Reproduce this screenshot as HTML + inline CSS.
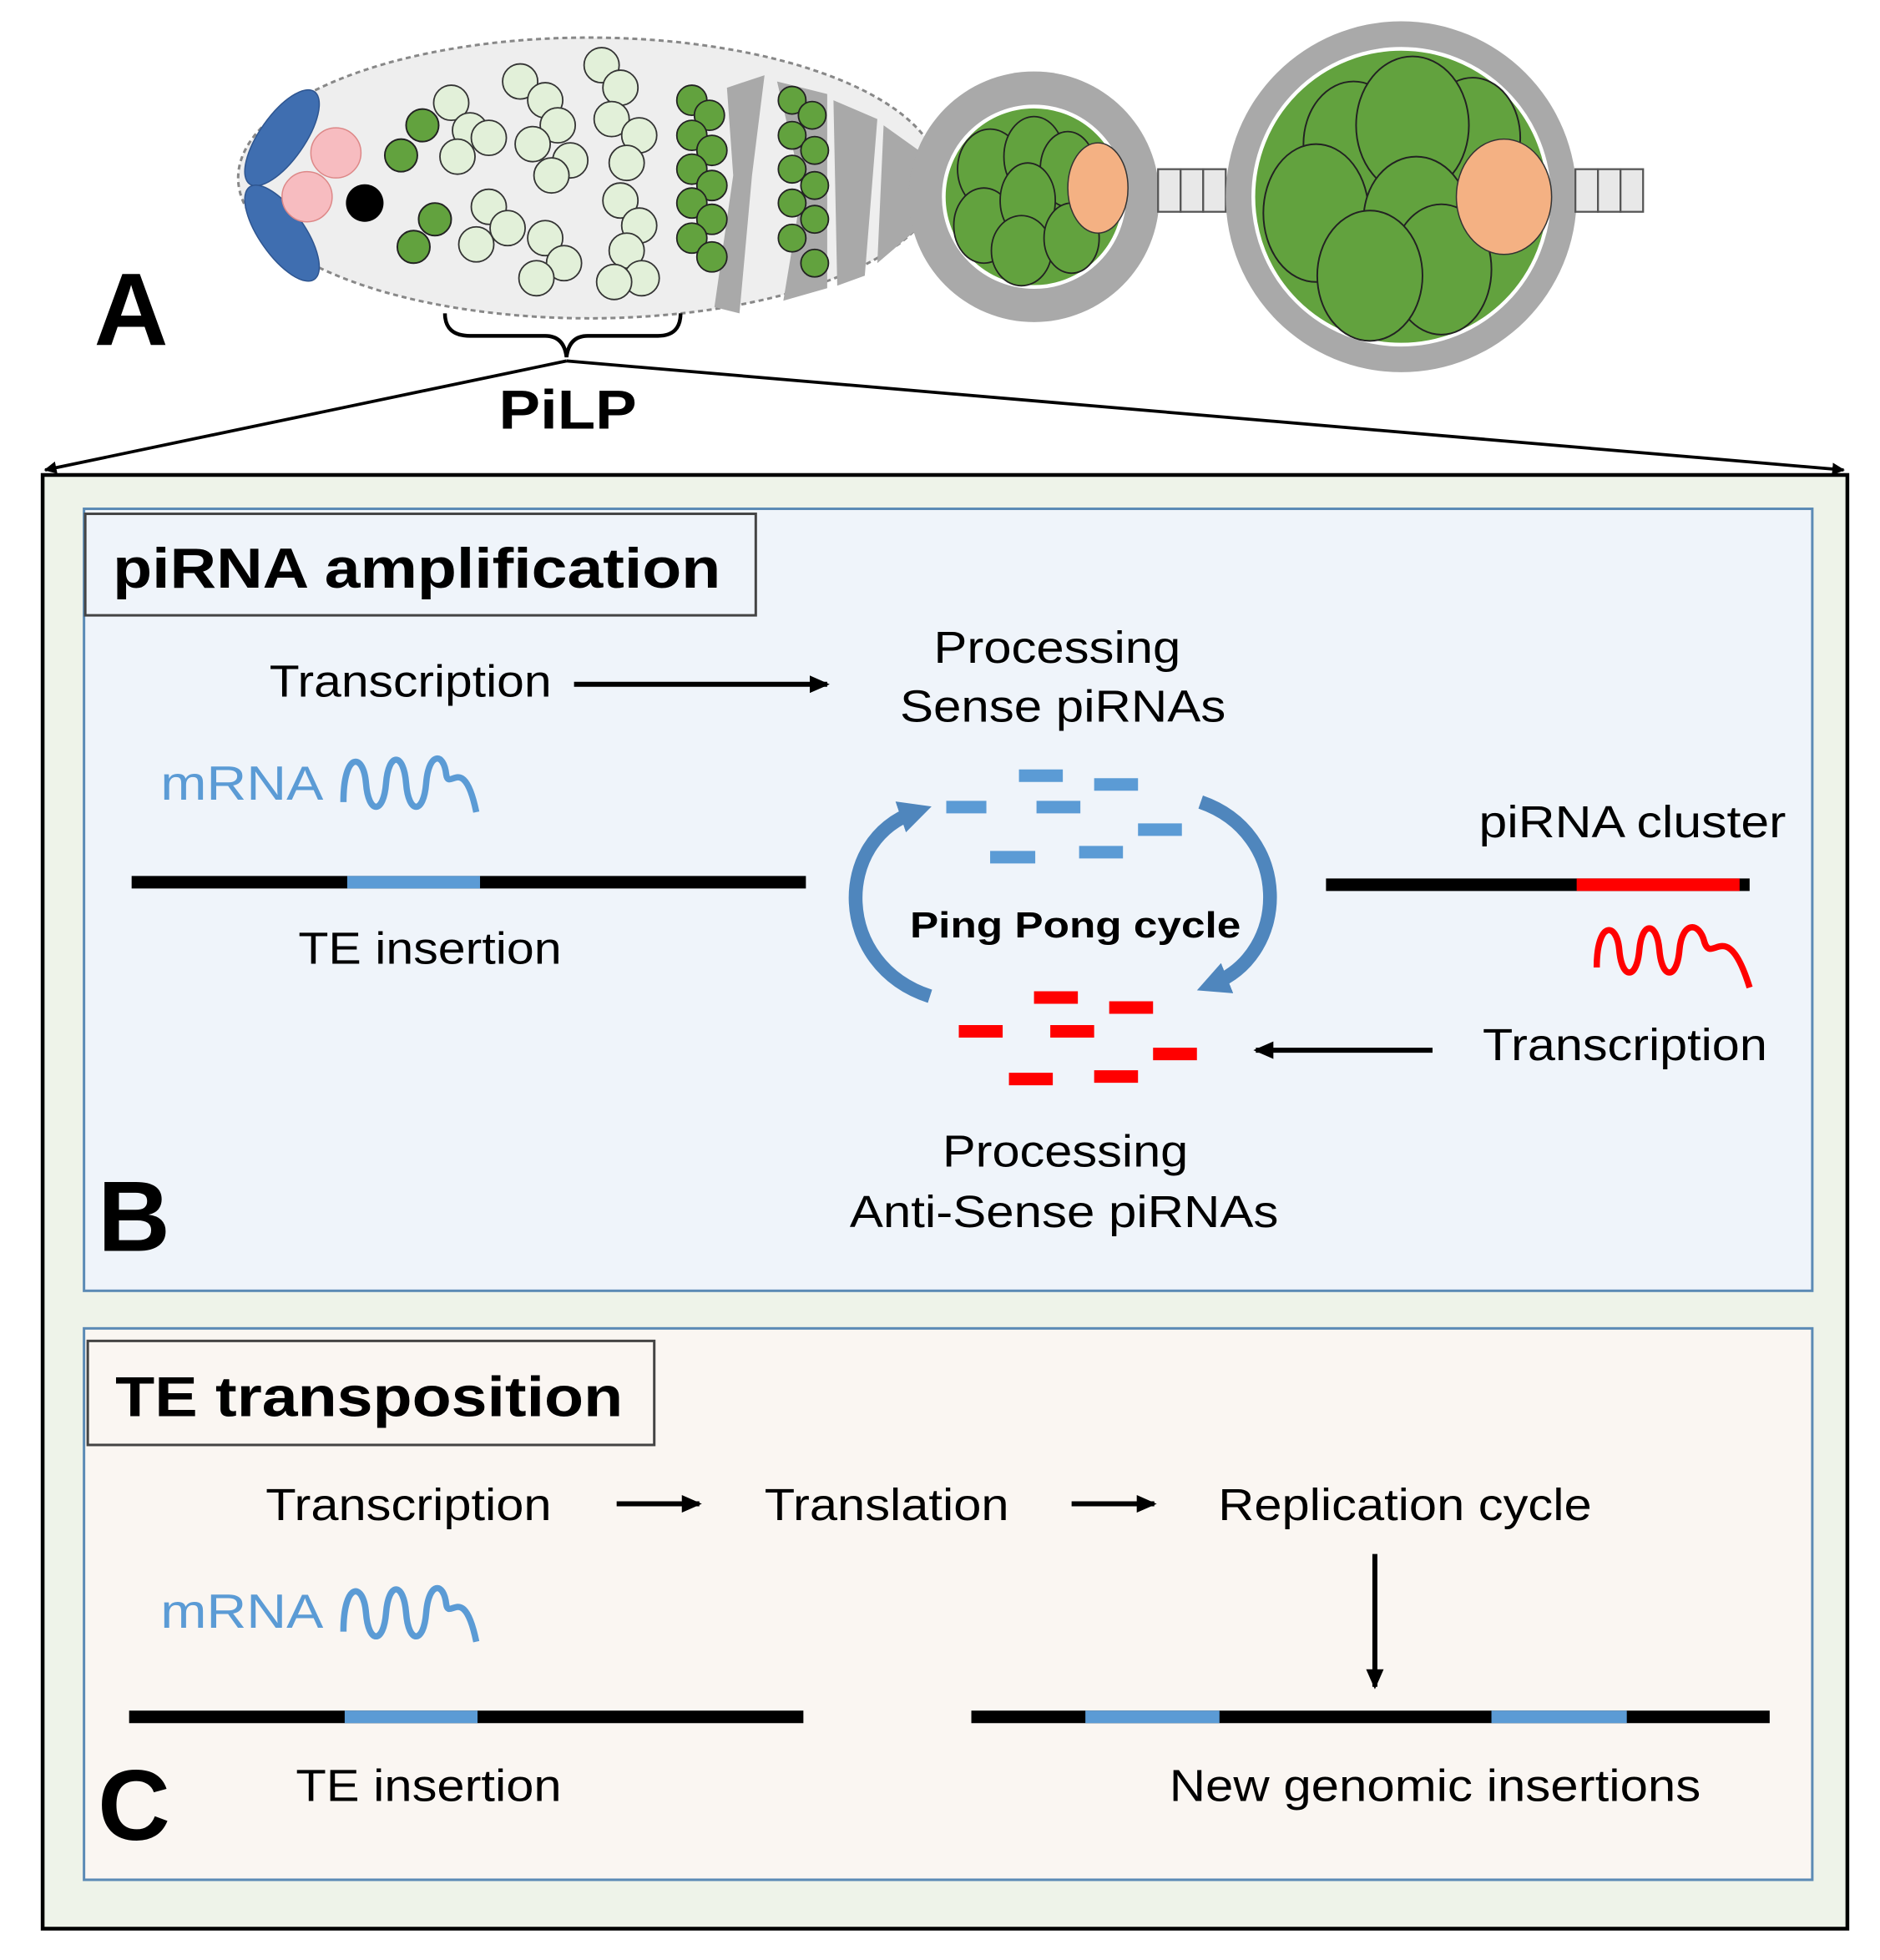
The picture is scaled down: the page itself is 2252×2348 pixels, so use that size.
<!DOCTYPE html>
<html><head><meta charset="utf-8"><style>
html,body{margin:0;padding:0;background:#fff}
svg{display:block}
text{font-family:"Liberation Sans",sans-serif}
</style></head><body>
<svg width="2252" height="2348" viewBox="0 0 1500 1564" xmlns="http://www.w3.org/2000/svg">
<defs>
<marker id="ah" markerWidth="10" markerHeight="10" refX="9" refY="5" orient="auto" markerUnits="userSpaceOnUse"><path d="M0,0 L10,5 L0,10 z" fill="#000"/></marker>
<marker id="ah2" markerWidth="16" markerHeight="14" refX="14" refY="7" orient="auto" markerUnits="userSpaceOnUse"><path d="M0,0 L16,7 L0,14 z" fill="#000"/></marker>
<marker id="bh" markerWidth="26" markerHeight="26" refX="12" refY="13" orient="auto" markerUnits="userSpaceOnUse"><path d="M0,0 L26,13 L0,26 z" fill="#4f86bd"/></marker>
</defs>
<rect width="1500" height="1564" fill="#fff"/>
<ellipse cx="470" cy="142" rx="280" ry="112" fill="#eeeeee" stroke="#888" stroke-width="2" stroke-dasharray="4,3"/>
<g fill="#a9a9a9">
<path d="M580,70 L610,60 L600,140 L590,250 L570,245 L585,140 z"/>
<path d="M620,65 L660,75 L660,230 L625,240 L640,150 z"/>
<path d="M665,80 L700,95 L690,220 L668,228 z"/>
<path d="M705,100 L740,125 L735,180 L700,210 z"/>
</g>
<ellipse cx="225" cy="110" rx="18" ry="45" transform="rotate(35 225 110)" fill="#3f6eb0" stroke="#2e5590"/>
<ellipse cx="225" cy="186" rx="18" ry="45" transform="rotate(-35 225 186)" fill="#3f6eb0" stroke="#2e5590"/>
<circle cx="268" cy="122" r="20" fill="#f7bcc0" stroke="#d88"/>
<circle cx="245" cy="157" r="20" fill="#f7bcc0" stroke="#d88"/>
<circle cx="291" cy="162" r="15" fill="#000"/>
<g fill="#62a23e" stroke="#222" stroke-width="1.3">
<circle cx="337" cy="100" r="13"/><circle cx="320" cy="124" r="13"/>
<circle cx="347" cy="175" r="13"/><circle cx="330" cy="197" r="13"/>
</g>
<g fill="#e2f0d9" stroke="#333" stroke-width="1.2">
<circle cx="360" cy="82" r="14"/><circle cx="375" cy="104" r="14"/><circle cx="365" cy="125" r="14"/><circle cx="390" cy="110" r="14"/>
<circle cx="415" cy="65" r="14"/><circle cx="435" cy="80" r="14"/><circle cx="445" cy="100" r="14"/><circle cx="425" cy="115" r="14"/><circle cx="455" cy="128" r="14"/><circle cx="440" cy="140" r="14"/>
<circle cx="480" cy="52" r="14"/><circle cx="495" cy="70" r="14"/><circle cx="488" cy="95" r="14"/><circle cx="510" cy="108" r="14"/><circle cx="500" cy="130" r="14"/>
<circle cx="390" cy="165" r="14"/><circle cx="405" cy="182" r="14"/><circle cx="380" cy="195" r="14"/>
<circle cx="435" cy="190" r="14"/><circle cx="450" cy="210" r="14"/><circle cx="428" cy="222" r="14"/>
<circle cx="495" cy="160" r="14"/><circle cx="510" cy="180" r="14"/><circle cx="500" cy="200" r="14"/><circle cx="512" cy="222" r="14"/><circle cx="490" cy="225" r="14"/>
</g>
<g fill="#62a23e" stroke="#222" stroke-width="1.2">
<circle cx="552" cy="80" r="12"/><circle cx="566" cy="92" r="12"/><circle cx="552" cy="108" r="12"/><circle cx="568" cy="120" r="12"/><circle cx="552" cy="135" r="12"/><circle cx="568" cy="148" r="12"/><circle cx="552" cy="162" r="12"/><circle cx="568" cy="175" r="12"/><circle cx="552" cy="190" r="12"/><circle cx="568" cy="205" r="12"/>
<circle cx="632" cy="80" r="11"/><circle cx="648" cy="92" r="11"/><circle cx="632" cy="108" r="11"/><circle cx="650" cy="120" r="11"/><circle cx="632" cy="135" r="11"/><circle cx="650" cy="148" r="11"/><circle cx="632" cy="162" r="11"/><circle cx="650" cy="175" r="11"/><circle cx="632" cy="190" r="11"/><circle cx="650" cy="210" r="11"/>
</g>
<circle cx="825" cy="157" r="100" fill="#a9a9a9"/>
<circle cx="825" cy="157" r="72" fill="#62a23e" stroke="#fff" stroke-width="3"/>
<g fill="#62a23e" stroke="#222" stroke-width="1.2">
<ellipse cx="790" cy="135" rx="26" ry="32"/><ellipse cx="825" cy="125" rx="24" ry="32"/><ellipse cx="852" cy="135" rx="22" ry="30"/>
<ellipse cx="785" cy="180" rx="24" ry="30"/><ellipse cx="820" cy="160" rx="22" ry="30"/><ellipse cx="815" cy="200" rx="24" ry="28"/><ellipse cx="855" cy="190" rx="22" ry="28"/>
</g>
<ellipse cx="876" cy="150" rx="24" ry="36" fill="#f4b183" stroke="#333"/>
<g fill="#e8e8e8" stroke="#555" stroke-width="1.5"><rect x="924" y="135" width="18" height="34"/><rect x="942" y="135" width="18" height="34"/><rect x="960" y="135" width="18" height="34"/></g>
<circle cx="1118" cy="157" r="140" fill="#a9a9a9"/>
<circle cx="1118" cy="157" r="118" fill="#62a23e" stroke="#fff" stroke-width="3"/>
<g fill="#62a23e" stroke="#222" stroke-width="1.3">
<ellipse cx="1080" cy="115" rx="40" ry="50"/><ellipse cx="1175" cy="110" rx="38" ry="48"/><ellipse cx="1127" cy="100" rx="45" ry="55"/>
<ellipse cx="1050" cy="170" rx="42" ry="55"/><ellipse cx="1130" cy="175" rx="42" ry="50"/>
<ellipse cx="1150" cy="215" rx="40" ry="52"/><ellipse cx="1093" cy="220" rx="42" ry="52"/>
</g>
<ellipse cx="1200" cy="157" rx="38" ry="46" fill="#f4b183" stroke="#333"/>
<g fill="#e8e8e8" stroke="#555" stroke-width="1.5"><rect x="1257" y="135" width="18" height="34"/><rect x="1275" y="135" width="18" height="34"/><rect x="1293" y="135" width="18" height="34"/></g>
<text x="75" y="275" font-size="82" font-weight="bold">A</text>
<path d="M355,250 Q355,268 375,268 L435,268 Q450,268 452,285 Q454,268 469,268 L525,268 Q543,268 543,250" fill="none" stroke="#000" stroke-width="3"/>
<line x1="452" y1="288" x2="36" y2="375" stroke="#000" stroke-width="2.5" marker-end="url(#ah)"/>
<line x1="452" y1="288" x2="1471" y2="375" stroke="#000" stroke-width="2.5" marker-end="url(#ah)"/>
<text x="398" y="342" font-size="44" font-weight="bold" textLength="110" lengthAdjust="spacingAndGlyphs">PiLP</text>
<rect x="34" y="379" width="1440" height="1160" fill="#eef3e9" stroke="#000" stroke-width="3"/>
<rect x="67" y="406" width="1379" height="624" fill="#eff4fa" stroke="#5b8ab5" stroke-width="2"/>
<rect x="68" y="410" width="535" height="81" fill="#eff4fa" stroke="#444" stroke-width="2"/>
<text x="90" y="469" font-size="45" font-weight="bold" textLength="485" lengthAdjust="spacingAndGlyphs">piRNA amplification</text>
<text x="215" y="556" font-size="36" textLength="225" lengthAdjust="spacingAndGlyphs">Transcription</text>
<line x1="458" y1="546" x2="660" y2="546" stroke="#000" stroke-width="4" marker-end="url(#ah2)"/>
<text x="745" y="529" font-size="36" textLength="197" lengthAdjust="spacingAndGlyphs">Processing</text>
<text x="718" y="576" font-size="36" textLength="260" lengthAdjust="spacingAndGlyphs">Sense piRNAs</text>
<text x="128" y="638" font-size="38" fill="#5b9bd5" textLength="130" lengthAdjust="spacingAndGlyphs">mRNA</text>
<path d="M274,640 C274,600 290,600 292,625 C294,650 306,650 308,625 C310,600 322,600 324,625 C326,650 338,650 340,625 C342,600 354,600 356,618 C358,632 370,600 380,648" fill="none" stroke="#5b9bd5" stroke-width="5"/>
<line x1="105" y1="704" x2="643" y2="704" stroke="#000" stroke-width="10"/>
<line x1="277" y1="704" x2="383" y2="704" stroke="#5b9bd5" stroke-width="10"/>
<text x="238" y="769" font-size="36" textLength="210" lengthAdjust="spacingAndGlyphs">TE insertion</text>
<g stroke="#5b9bd5" stroke-width="10">
<line x1="755" y1="644" x2="787" y2="644"/><line x1="813" y1="619" x2="848" y2="619"/><line x1="873" y1="626" x2="908" y2="626"/><line x1="827" y1="644" x2="862" y2="644"/><line x1="908" y1="662" x2="943" y2="662"/><line x1="790" y1="684" x2="826" y2="684"/><line x1="861" y1="680" x2="896" y2="680"/>
</g>
<path d="M742,795 C665,770 665,670 730,648" fill="none" stroke="#4f86bd" stroke-width="11" marker-end="url(#bh)"/>
<path d="M958,640 C1030,665 1030,760 968,785" fill="none" stroke="#4f86bd" stroke-width="11" marker-end="url(#bh)"/>
<text x="726" y="748" font-size="29" font-weight="bold" textLength="264" lengthAdjust="spacingAndGlyphs">Ping Pong cycle</text>
<g stroke="#ff0000" stroke-width="10">
<line x1="825" y1="796" x2="860" y2="796"/><line x1="885" y1="804" x2="920" y2="804"/><line x1="765" y1="823" x2="800" y2="823"/><line x1="838" y1="823" x2="873" y2="823"/><line x1="920" y1="841" x2="955" y2="841"/><line x1="805" y1="861" x2="840" y2="861"/><line x1="873" y1="859" x2="908" y2="859"/>
</g>
<line x1="1058" y1="706" x2="1396" y2="706" stroke="#000" stroke-width="10"/>
<line x1="1258" y1="706" x2="1388" y2="706" stroke="#ff0000" stroke-width="10"/>
<text x="1180" y="668" font-size="36" textLength="245" lengthAdjust="spacingAndGlyphs">piRNA cluster</text>
<path d="M1274,772 C1274,735 1290,735 1292,758 C1294,782 1306,782 1308,758 C1310,735 1322,735 1324,758 C1326,782 1338,782 1340,758 C1342,735 1356,735 1360,752 C1366,770 1378,730 1396,788" fill="none" stroke="#ff0000" stroke-width="5"/>
<text x="1183" y="846" font-size="36" textLength="227" lengthAdjust="spacingAndGlyphs">Transcription</text>
<line x1="1143" y1="838" x2="1002" y2="838" stroke="#000" stroke-width="4" marker-end="url(#ah2)"/>
<text x="752" y="931" font-size="36" textLength="196" lengthAdjust="spacingAndGlyphs">Processing</text>
<text x="678" y="979" font-size="36" textLength="342" lengthAdjust="spacingAndGlyphs">Anti-Sense piRNAs</text>
<text x="78" y="998" font-size="80" font-weight="bold">B</text>
<rect x="67" y="1060" width="1379" height="440" fill="#faf6f2" stroke="#5b8ab5" stroke-width="2"/>
<rect x="70" y="1070" width="452" height="83" fill="#faf6f2" stroke="#444" stroke-width="2"/>
<text x="92" y="1130" font-size="45" font-weight="bold" textLength="405" lengthAdjust="spacingAndGlyphs">TE transposition</text>
<text x="212" y="1213" font-size="36" textLength="228" lengthAdjust="spacingAndGlyphs">Transcription</text>
<line x1="492" y1="1200" x2="558" y2="1200" stroke="#000" stroke-width="4" marker-end="url(#ah2)"/>
<text x="610" y="1213" font-size="36" textLength="195" lengthAdjust="spacingAndGlyphs">Translation</text>
<line x1="855" y1="1200" x2="921" y2="1200" stroke="#000" stroke-width="4" marker-end="url(#ah2)"/>
<text x="972" y="1213" font-size="36" textLength="298" lengthAdjust="spacingAndGlyphs">Replication cycle</text>
<line x1="1097" y1="1240" x2="1097" y2="1346" stroke="#000" stroke-width="4" marker-end="url(#ah2)"/>
<text x="128" y="1299" font-size="38" fill="#5b9bd5" textLength="130" lengthAdjust="spacingAndGlyphs">mRNA</text>
<path d="M274,1302 C274,1262 290,1262 292,1287 C294,1312 306,1312 308,1287 C310,1262 322,1262 324,1287 C326,1312 338,1312 340,1287 C342,1262 354,1262 356,1280 C358,1294 370,1262 380,1310" fill="none" stroke="#5b9bd5" stroke-width="5"/>
<line x1="103" y1="1370" x2="641" y2="1370" stroke="#000" stroke-width="10"/>
<line x1="275" y1="1370" x2="381" y2="1370" stroke="#5b9bd5" stroke-width="10"/>
<line x1="775" y1="1370" x2="1412" y2="1370" stroke="#000" stroke-width="10"/>
<line x1="866" y1="1370" x2="973" y2="1370" stroke="#5b9bd5" stroke-width="10"/>
<line x1="1190" y1="1370" x2="1298" y2="1370" stroke="#5b9bd5" stroke-width="10"/>
<text x="236" y="1437" font-size="36" textLength="212" lengthAdjust="spacingAndGlyphs">TE insertion</text>
<text x="933" y="1437" font-size="36" textLength="424" lengthAdjust="spacingAndGlyphs">New genomic insertions</text>
<text x="78" y="1468" font-size="80" font-weight="bold">C</text>
</svg>
</body></html>
